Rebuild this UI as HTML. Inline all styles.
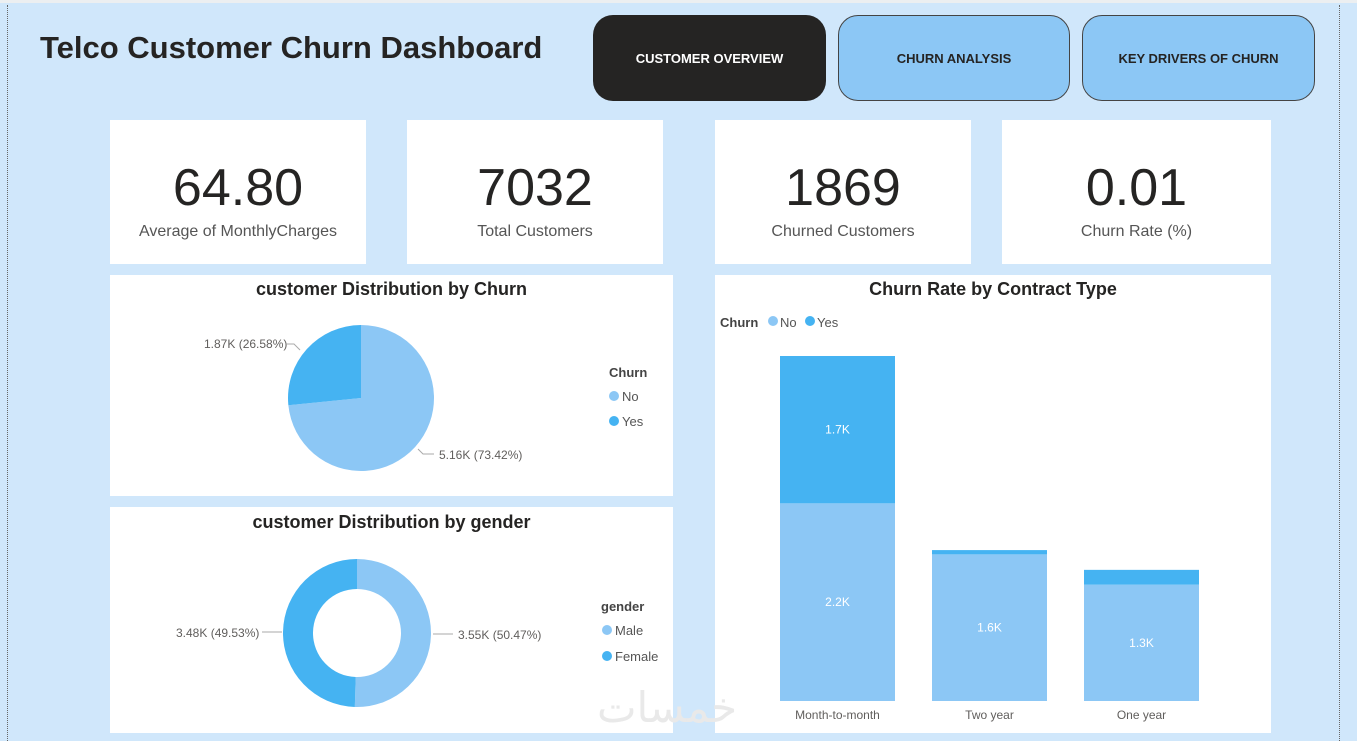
<!DOCTYPE html>
<html><head><meta charset="utf-8">
<style>
html,body{margin:0;padding:0}
body{width:1357px;height:741px;background:#d0e7fb;position:relative;overflow:hidden;font-family:"Liberation Sans","DejaVu Sans",sans-serif}
.abs{position:absolute}
.card{position:absolute;background:#fff}
.kpi-v{position:absolute;left:0;right:0;top:38px;text-align:center;font-size:52px;line-height:60px;color:#252423;font-family:"Liberation Sans",sans-serif}
.kpi-l{position:absolute;left:0;right:0;top:103px;text-align:center;font-size:16px;color:#555}
.btn{position:absolute;top:15px;height:86px;border-radius:20px;display:flex;align-items:center;justify-content:center;font-weight:bold;font-size:13px;box-sizing:border-box}
.title{position:absolute;left:0;right:0;text-align:center;font-weight:bold;font-size:18px;color:#252423}
</style></head><body>
<div class="abs" style="left:0;top:0;width:1357px;height:3px;background:#eceff1"></div>
<div class="abs" style="left:7px;top:5px;height:736px;border-left:1px dotted #666"></div>
<div class="abs" style="left:1339px;top:5px;height:736px;border-left:1px dotted #666"></div>
<div class="abs" style="left:40px;top:30px;font-size:31px;font-weight:bold;color:#252423;font-family:'Liberation Sans',sans-serif">Telco Customer Churn Dashboard</div>
<div class="btn" style="left:593px;width:233px;background:#252423;color:#fff">CUSTOMER OVERVIEW</div>
<div class="btn" style="left:838px;width:232px;background:#8cc7f5;color:#252423;border:1px solid #444">CHURN ANALYSIS</div>
<div class="btn" style="left:1082px;width:233px;background:#8cc7f5;color:#252423;border:1px solid #444">KEY DRIVERS OF CHURN</div>

<div class="card" style="left:110px;top:120px;width:256px;height:144px"><div class="kpi-v">64.80</div><div class="kpi-l">Average of MonthlyCharges</div></div>
<div class="card" style="left:407px;top:120px;width:256px;height:144px"><div class="kpi-v">7032</div><div class="kpi-l">Total Customers</div></div>
<div class="card" style="left:715px;top:120px;width:256px;height:144px"><div class="kpi-v">1869</div><div class="kpi-l">Churned Customers</div></div>
<div class="card" style="left:1002px;top:120px;width:269px;height:144px"><div class="kpi-v">0.01</div><div class="kpi-l">Churn Rate (%)</div></div>

<div class="card" style="left:110px;top:275px;width:563px;height:221px"><div class="title" style="top:4px">customer Distribution by Churn</div></div>
<div class="card" style="left:110px;top:507px;width:563px;height:226px"><div class="title" style="top:5px">customer Distribution by gender</div></div>
<div class="card" style="left:715px;top:275px;width:556px;height:458px"><div class="title" style="top:4px">Churn Rate by Contract Type</div></div>

<svg class="abs" style="left:0;top:0" width="1357" height="741" id="chart" font-family="Liberation Sans, sans-serif">
<g id="pies"></g><g id="bars"></g>
<g font-size="13" fill="#555">
<text x="609" y="377" font-weight="bold" fill="#444">Churn</text>
<circle cx="614" cy="396" r="5" fill="#8cc7f5"/><text x="622" y="401">No</text>
<circle cx="614" cy="421" r="5" fill="#45b3f2"/><text x="622" y="426">Yes</text>
</g>
<g font-size="13" fill="#555">
<text x="601" y="611" font-weight="bold" fill="#444">gender</text>
<circle cx="607" cy="630" r="5" fill="#8cc7f5"/><text x="615" y="635">Male</text>
<circle cx="607" cy="656" r="5" fill="#45b3f2"/><text x="615" y="661">Female</text>
</g>
<g font-size="13" fill="#555">
<text x="720" y="327" font-weight="bold" fill="#444">Churn</text>
<circle cx="773" cy="321" r="5" fill="#8cc7f5"/><text x="780" y="327">No</text>
<circle cx="810" cy="321" r="5" fill="#45b3f2"/><text x="817" y="327">Yes</text>
</g>
<g font-size="12" fill="#605e5c">
<text x="204" y="348">1.87K (26.58%)</text><path d="M287 344 H294 L300 350" stroke="#aaa" fill="none"/>
<text x="439" y="459">5.16K (73.42%)</text><path d="M418 449 L423 454 H434" stroke="#aaa" fill="none"/>
<text x="176" y="637">3.48K (49.53%)</text><path d="M262 632 H282" stroke="#aaa" fill="none"/>
<text x="458" y="639">3.55K (50.47%)</text><path d="M433 634 H453" stroke="#aaa" fill="none"/>
</g>
<text x="597" y="722" font-size="42" fill="#e9e9e9" font-family="DejaVu Sans, sans-serif">خمسات</text>
</svg>
<script>
const ns='http://www.w3.org/2000/svg';
const churnLabels=['No','Yes'];
const churnValues=[5163,1869];
const genderLabels=['Male','Female'];
const genderValues=[3549,3483];
const categories=['Month-to-month','Two year','One year'];
const noValues=[2220,1647,1307];
const yesValues=[1655,48,166];
const barLabels=['2.2K','1.6K','1.3K'];
const yesLabels=['1.7K','',''];
const colors=['#8cc7f5','#45b3f2'];
function el(t,a,p){const e=document.createElementNS(ns,t);for(const k in a)e.setAttribute(k,a[k]);p.appendChild(e);return e;}
function pt(cx,cy,rx,ry,f){const a=f*2*Math.PI;return [cx+rx*Math.sin(a),cy-ry*Math.cos(a)];}
function drawPie(vals,cx,cy,rx,ry,irx,iry,name,parent){
 const tot=vals.reduce((a,b)=>a+b,0);let acc=0;
 vals.forEach((v,i)=>{
  const f0=acc/tot,f1=(acc+v)/tot;acc+=v;
  const big=(f1-f0)>0.5?1:0;
  const p0=pt(cx,cy,rx,ry,f0),p1=pt(cx,cy,rx,ry,f1);
  let d;
  if(irx>0){const q0=pt(cx,cy,irx,iry,f0),q1=pt(cx,cy,irx,iry,f1);
   d=`M${p0[0]} ${p0[1]} A${rx} ${ry} 0 ${big} 1 ${p1[0]} ${p1[1]} L${q1[0]} ${q1[1]} A${irx} ${iry} 0 ${big} 0 ${q0[0]} ${q0[1]}Z`;}
  else d=`M${cx} ${cy} L${p0[0]} ${p0[1]} A${rx} ${ry} 0 ${big} 1 ${p1[0]} ${p1[1]}Z`;
  const e=el('path',{d:d,fill:colors[i]},parent);
  
  
 });
}
const pies=document.getElementById('pies');
drawPie(churnValues,361,398,73,73,0,0,'churn-pie',pies);
drawPie(genderValues,357,633,74,74,44,44,'gender-donut',pies);
const bars=document.getElementById('bars');
const base=701,maxV=3875,plotH=345,x0=780,step=152,bw=115;
function y(v){return v/maxV*plotH;}
categories.forEach((c,i)=>{
 const x=x0+i*step;const hn=y(noValues[i]),hy=y(yesValues[i]);
 const r1=el('rect',{x:x,y:base-hn,width:bw,height:hn,fill:colors[0]},bars);
 
 
 const r2=el('rect',{x:x,y:base-hn-hy,width:bw,height:hy,fill:colors[1]},bars);
 
 
 const t=el('text',{x:x+bw/2,y:base-hn/2+4,'text-anchor':'middle','font-size':12,fill:'#fff'},bars);t.textContent=barLabels[i];
 
 
 if(yesLabels[i]){const t2=el('text',{x:x+bw/2,y:base-hn-hy/2+4,'text-anchor':'middle','font-size':12,fill:'#fff'},bars);t2.textContent=yesLabels[i];
 
 }
 const tl=el('text',{x:x+bw/2,y:719,'text-anchor':'middle','font-size':12,fill:'#605e5c'},bars);tl.textContent=c;
 
 
});
</script>
</body></html>
